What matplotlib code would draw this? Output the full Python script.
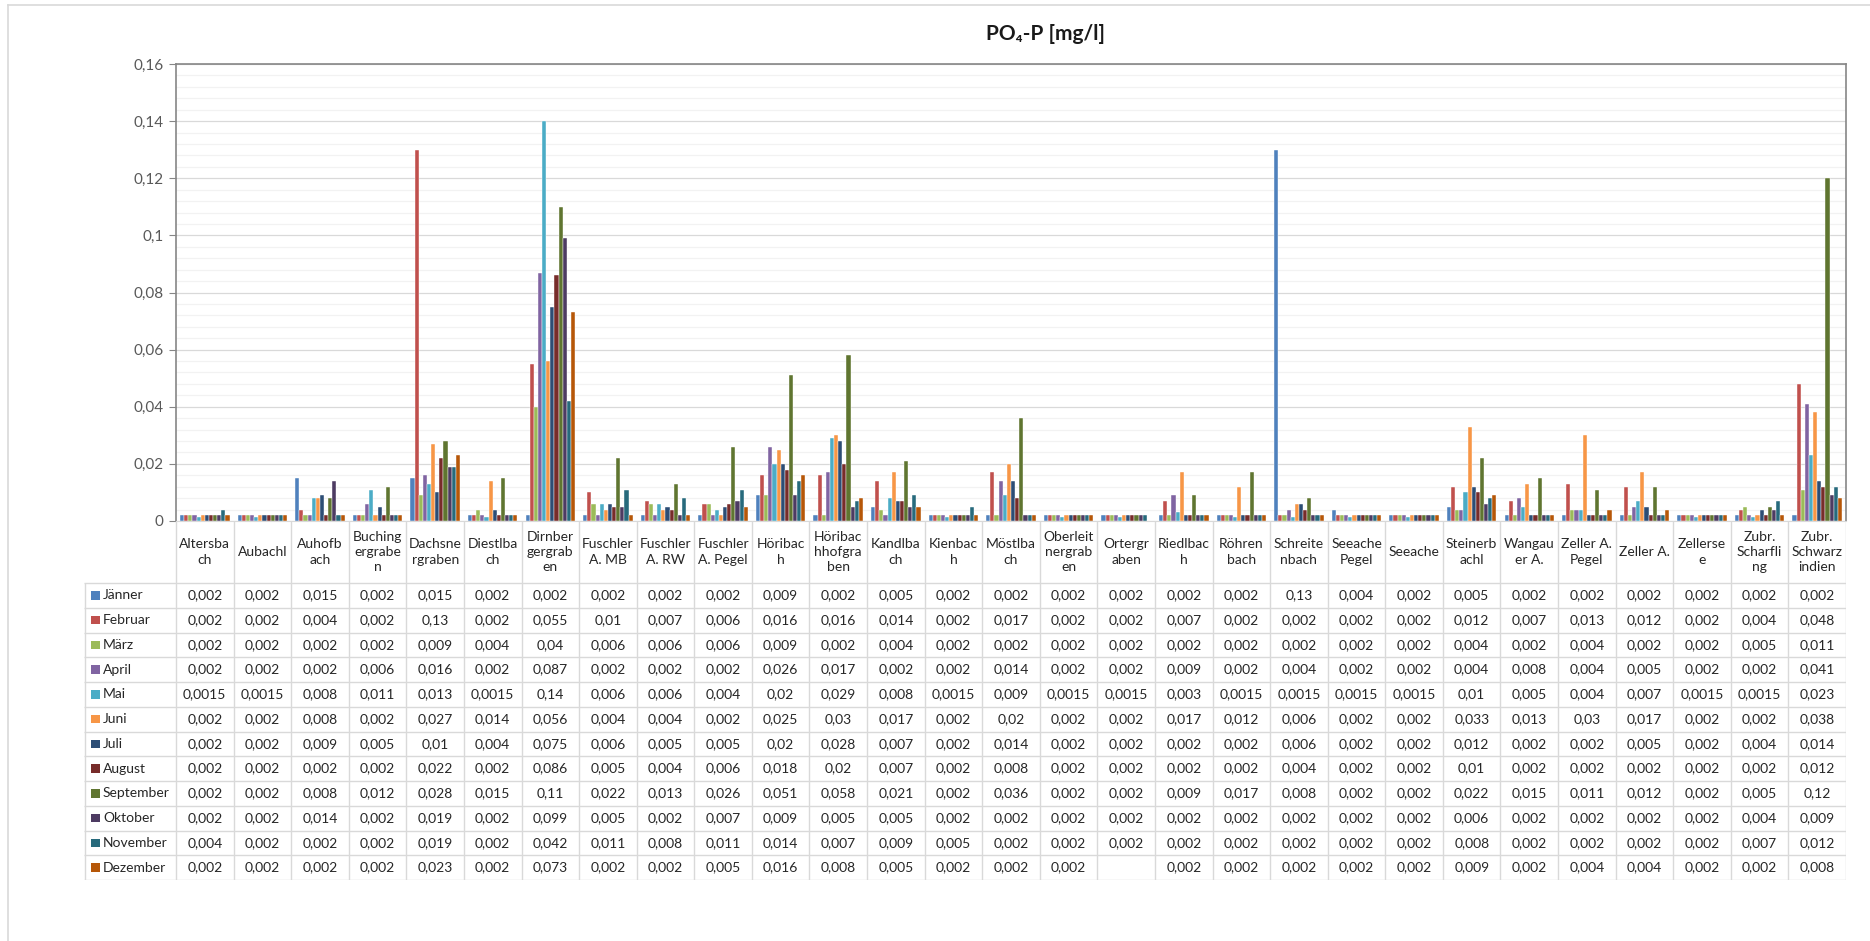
import matplotlib
matplotlib.use('Agg')
import matplotlib.pyplot as plt
import numpy as np
from matplotlib.patches import Rectangle
from matplotlib.lines import Line2D

plt.rcParams['font.family'] = ['Lato', 'DejaVu Sans']

# station names, wrapped the way they sit in the table header
stations = ['Altersba\nch', 'Aubachl', 'Auhofb\nach', 'Buching\nergrabe\nn', 'Dachsne\nrgraben',
            'Diestlba\nch', 'Dirnber\ngergrab\nen', 'Fuschler\nA. MB', 'Fuschler\nA. RW',
            'Fuschler\nA. Pegel', 'Höribac\nh', 'Höribac\nhhofgra\nben', 'Kandlba\nch',
            'Kienbac\nh', 'Möstlba\nch', 'Oberleit\nnergrab\nen', 'Ortergr\naben', 'Riedlbac\nh',
            'Röhren\nbach', 'Schreite\nnbach', 'Seeache\nPegel', 'Seeache', 'Steinerb\nachl',
            'Wangau\ner A.', 'Zeller A.\nPegel', 'Zeller A.', 'Zellerse\ne', 'Zubr.\nScharfli\nng',
            'Zubr.\nSchwarz\nindien']

months = ['Jänner', 'Februar', 'März', 'April', 'Mai', 'Juni', 'Juli', 'August',
          'September', 'Oktober', 'November', 'Dezember']

colors = ['#4F81BD', '#C0504D', '#9BBB59', '#8064A2', '#4BACC6', '#F79646',
          '#2C4D75', '#772C2A', '#5F7530', '#4D3B62', '#276A7C', '#B65708']

# PO4-P in mg/l, one list per month, same order as stations
jaenner = [0.002, 0.002, 0.015, 0.002, 0.015, 0.002, 0.002, 0.002, 0.002, 0.002, 0.009, 0.002, 0.005, 0.002, 0.002,
           0.002, 0.002, 0.002, 0.002, 0.13, 0.004, 0.002, 0.005, 0.002, 0.002, 0.002, 0.002, 0.002, 0.002]
februar = [0.002, 0.002, 0.004, 0.002, 0.13, 0.002, 0.055, 0.01, 0.007, 0.006, 0.016, 0.016, 0.014, 0.002, 0.017,
           0.002, 0.002, 0.007, 0.002, 0.002, 0.002, 0.002, 0.012, 0.007, 0.013, 0.012, 0.002, 0.004, 0.048]
maerz = [0.002, 0.002, 0.002, 0.002, 0.009, 0.004, 0.04, 0.006, 0.006, 0.006, 0.009, 0.002, 0.004, 0.002, 0.002,
         0.002, 0.002, 0.002, 0.002, 0.002, 0.002, 0.002, 0.004, 0.002, 0.004, 0.002, 0.002, 0.005, 0.011]
april = [0.002, 0.002, 0.002, 0.006, 0.016, 0.002, 0.087, 0.002, 0.002, 0.002, 0.026, 0.017, 0.002, 0.002, 0.014,
         0.002, 0.002, 0.009, 0.002, 0.004, 0.002, 0.002, 0.004, 0.008, 0.004, 0.005, 0.002, 0.002, 0.041]
mai = [0.0015, 0.0015, 0.008, 0.011, 0.013, 0.0015, 0.14, 0.006, 0.006, 0.004, 0.02, 0.029, 0.008, 0.0015, 0.009,
       0.0015, 0.0015, 0.003, 0.0015, 0.0015, 0.0015, 0.0015, 0.01, 0.005, 0.004, 0.007, 0.0015, 0.0015, 0.023]
juni = [0.002, 0.002, 0.008, 0.002, 0.027, 0.014, 0.056, 0.004, 0.004, 0.002, 0.025, 0.03, 0.017, 0.002, 0.02,
        0.002, 0.002, 0.017, 0.012, 0.006, 0.002, 0.002, 0.033, 0.013, 0.03, 0.017, 0.002, 0.002, 0.038]
juli = [0.002, 0.002, 0.009, 0.005, 0.01, 0.004, 0.075, 0.006, 0.005, 0.005, 0.02, 0.028, 0.007, 0.002, 0.014,
        0.002, 0.002, 0.002, 0.002, 0.006, 0.002, 0.002, 0.012, 0.002, 0.002, 0.005, 0.002, 0.004, 0.014]
august = [0.002, 0.002, 0.002, 0.002, 0.022, 0.002, 0.086, 0.005, 0.004, 0.006, 0.018, 0.02, 0.007, 0.002, 0.008,
          0.002, 0.002, 0.002, 0.002, 0.004, 0.002, 0.002, 0.01, 0.002, 0.002, 0.002, 0.002, 0.002, 0.012]
september = [0.002, 0.002, 0.008, 0.012, 0.028, 0.015, 0.11, 0.022, 0.013, 0.026, 0.051, 0.058, 0.021, 0.002, 0.036,
             0.002, 0.002, 0.009, 0.017, 0.008, 0.002, 0.002, 0.022, 0.015, 0.011, 0.012, 0.002, 0.005, 0.12]
oktober = [0.002, 0.002, 0.014, 0.002, 0.019, 0.002, 0.099, 0.005, 0.002, 0.007, 0.009, 0.005, 0.005, 0.002, 0.002,
           0.002, 0.002, 0.002, 0.002, 0.002, 0.002, 0.002, 0.006, 0.002, 0.002, 0.002, 0.002, 0.004, 0.009]
november = [0.004, 0.002, 0.002, 0.002, 0.019, 0.002, 0.042, 0.011, 0.008, 0.011, 0.014, 0.007, 0.009, 0.005, 0.002,
            0.002, 0.002, 0.002, 0.002, 0.002, 0.002, 0.002, 0.008, 0.002, 0.002, 0.002, 0.002, 0.007, 0.012]
dezember = [0.002, 0.002, 0.002, 0.002, 0.023, 0.002, 0.073, 0.002, 0.002, 0.005, 0.016, 0.008, 0.005, 0.002, 0.002,
            0.002, np.nan, 0.002, 0.002, 0.002, 0.002, 0.002, 0.009, 0.002, 0.004, 0.004, 0.002, 0.002, 0.008]

values = np.array([jaenner, februar, maerz, april, mai, juni, juli, august,
                   september, oktober, november, dezember], dtype=float)


def de_num(v):
    # german decimal comma
    if np.isnan(v):
        return ''
    return ('%g' % v).replace('.', ',')


W, H = 1870, 941
fig = plt.figure(figsize=(W / 100, H / 100), dpi=100)

# layout in pixels
x0, x1 = 176, 1846
y_top, y_zero, y_bot = 64, 521, 880
lab_left = 84
head_h = 62
row_h = (y_bot - y_zero - head_h) / len(months)
txt_col = '#262626'
grid_col = '#D9D9D9'

n_st = len(stations)
n_m = len(months)

# ---- bars
ax = fig.add_axes([x0 / W, 1 - y_zero / H, (x1 - x0) / W, (y_zero - y_top) / H])
x = np.arange(n_st)
group_w = 0.86
bw = group_w / n_m
for i in range(n_m):
    ax.bar(x - group_w / 2 + bw * (i + 0.5), values[i], bw, color=colors[i],
           edgecolor='white', linewidth=0.3, zorder=3)

ax.set_xlim(-0.5, n_st - 0.5)
ax.set_ylim(0, 0.16)
yt = np.round(np.arange(0, 0.161, 0.02), 3)
ax.set_yticks(yt)
ax.set_yticklabels([de_num(v) for v in yt])
ax.set_yticks(np.arange(0, 0.161, 0.004), minor=True)
ax.set_xticks([])
ax.tick_params(axis='y', which='major', length=5, color='#868686', labelsize=11,
               labelcolor='#595959', pad=4)
ax.tick_params(axis='y', which='minor', length=0)
ax.grid(axis='y', which='major', color=grid_col, lw=0.9, zorder=0)
ax.grid(axis='y', which='minor', color='#F2F2F2', lw=0.9, zorder=0)
for s in ['left', 'top', 'right']:
    ax.spines[s].set_color('#868686')
    ax.spines[s].set_linewidth(1.2)
ax.spines['bottom'].set_color(grid_col)

# ---- data table below the bars
tx = fig.add_axes([lab_left / W, 1 - y_bot / H, (x1 - lab_left) / W, (y_bot - y_zero) / H])
px = n_st / (x1 - x0)  # category units per pixel
xl = -0.5 - (x0 - lab_left) * px
tx.set_xlim(xl, n_st - 0.5)
tx.set_ylim(y_bot - y_zero, 0)
tx.axis('off')

tx.vlines(np.arange(n_st + 1) - 0.5, 0, y_bot - y_zero, color=grid_col, lw=1)
tx.vlines([xl + 0.5 * px], head_h, y_bot - y_zero, color=grid_col, lw=1)
tx.hlines(head_h + row_h * np.arange(n_m + 1), xl, n_st - 0.5, color=grid_col, lw=1)

for k in range(n_st):
    tx.text(k, head_h / 2, stations[k], ha='center', va='center', fontsize=10,
            color=txt_col, linespacing=1.3)

for i in range(n_m):
    yc = head_h + row_h * (i + 0.5)
    tx.add_patch(Rectangle((xl + 7 * px, yc - 4.3), 8.6 * px, 8.6, color=colors[i], lw=0))
    tx.text(xl + 19 * px, yc, months[i], ha='left', va='center', fontsize=10, color=txt_col)
    for k in range(n_st):
        tx.text(k, yc, de_num(values[i, k]), ha='center', va='center', fontsize=10, color=txt_col)

# title
fig.text(1046 / W, 1 - 34 / H, 'PO₄-P [mg/l]', ha='center', va='center', fontsize=15,
         fontweight='bold', color='#1a1a1a')

# chart border
fig.add_artist(Line2D([8 / W, 8 / W], [0, 1 - 5 / H], color=grid_col, lw=1.2))
fig.add_artist(Line2D([8 / W, 1], [1 - 5 / H, 1 - 5 / H], color=grid_col, lw=1.2))

fig.savefig('out.png', dpi=100)
